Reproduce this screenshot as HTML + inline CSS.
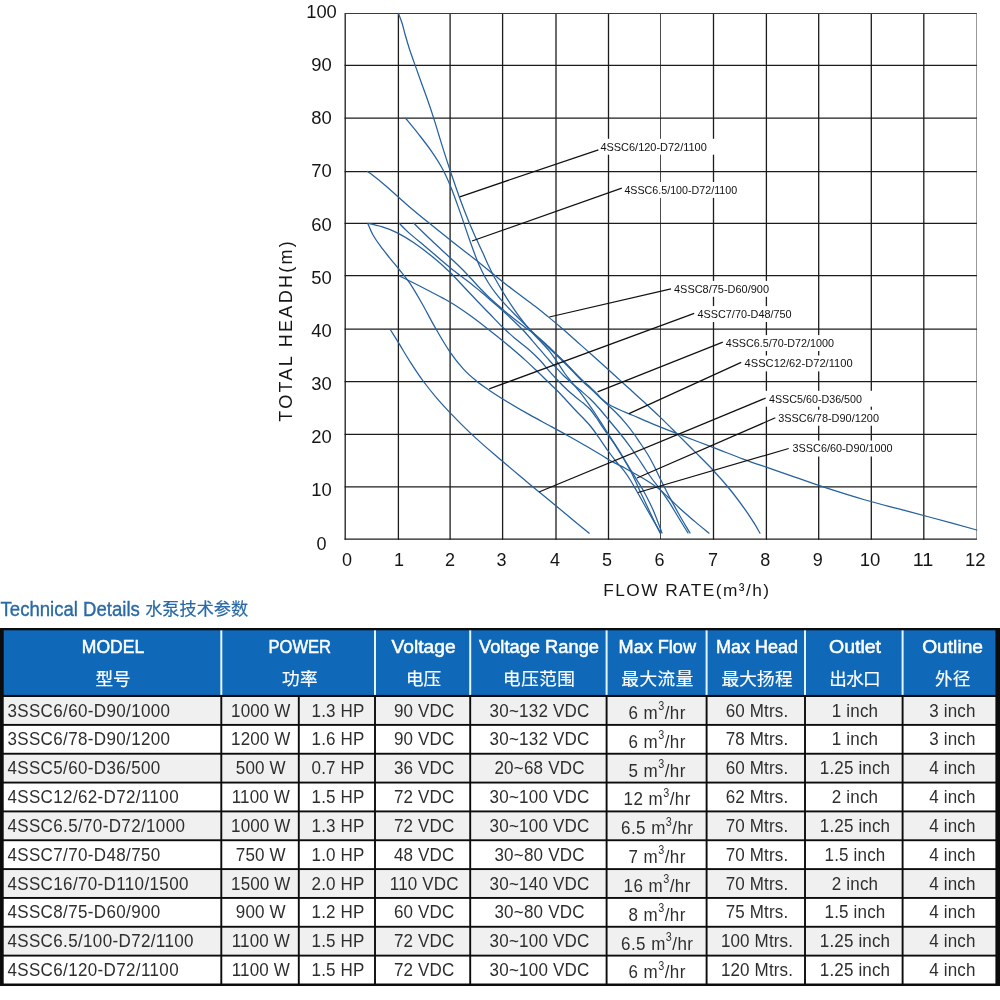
<!DOCTYPE html>
<html lang="en"><head><meta charset="utf-8"><title>Technical Details</title>
<style>
html,body{margin:0;padding:0;background:#fff;}
body{width:1000px;height:1000px;overflow:hidden;}
svg{display:block;}
text{font-family:"Liberation Sans","Noto Sans CJK SC",sans-serif;}
.ax{font-size:18px;fill:#161616;text-anchor:middle;}
.lb{font-size:10.4px;fill:#111;}
.tt{font-size:17px;fill:#111;}
.hd{font-size:17.5px;fill:#fff;text-anchor:middle;stroke:#fff;stroke-width:0.5px;}
.hc{font-size:17.6px;fill:#fff;text-anchor:middle;stroke:#fff;stroke-width:0.2px;}
.td{font-size:18.9px;fill:#2e2e2e;text-anchor:middle;}
.tm{font-size:18.9px;fill:#2e2e2e;}
.cv{fill:none;stroke:#25619e;stroke-width:1.25;stroke-linejoin:round;stroke-linecap:round;}
.ld{stroke:#111;stroke-width:1.25;fill:none;}
</style></head><body>
<svg width="1000" height="1000" viewBox="0 0 1000 1000">
<rect x="0" y="0" width="1000" height="1000" fill="#fff"/>
<g id="grid" fill="none">
<line x1="345.20" y1="13.00" x2="345.20" y2="539.70" stroke="#1c1c1c" stroke-width="1.3"/>
<line x1="398.40" y1="13.00" x2="398.40" y2="539.70" stroke="#1c1c1c" stroke-width="1.3"/>
<line x1="450.10" y1="13.00" x2="450.10" y2="539.70" stroke="#1c1c1c" stroke-width="1.3"/>
<line x1="502.60" y1="13.00" x2="502.60" y2="539.70" stroke="#1c1c1c" stroke-width="1.3"/>
<line x1="556.00" y1="13.00" x2="556.00" y2="539.70" stroke="#1c1c1c" stroke-width="1.3"/>
<line x1="608.50" y1="13.00" x2="608.50" y2="539.70" stroke="#1c1c1c" stroke-width="1.3"/>
<line x1="660.50" y1="13.40" x2="660.50" y2="539.10" stroke="#4a4a4a" stroke-width="1"/>
<line x1="713.50" y1="13.00" x2="713.50" y2="539.70" stroke="#1c1c1c" stroke-width="1.3"/>
<line x1="766.40" y1="13.00" x2="766.40" y2="539.70" stroke="#1c1c1c" stroke-width="1.3"/>
<line x1="818.70" y1="13.00" x2="818.70" y2="539.70" stroke="#1c1c1c" stroke-width="1.3"/>
<line x1="871.30" y1="13.00" x2="871.30" y2="539.70" stroke="#1c1c1c" stroke-width="1.3"/>
<line x1="923.80" y1="13.00" x2="923.80" y2="539.70" stroke="#1c1c1c" stroke-width="1.3"/>
<line x1="976.50" y1="13.40" x2="976.50" y2="539.10" stroke="#9a9a9a" stroke-width="1"/>
<line x1="344.60" y1="539.10" x2="976.90" y2="539.10" stroke="#1c1c1c" stroke-width="1.3"/>
<line x1="344.60" y1="486.90" x2="976.90" y2="486.90" stroke="#1c1c1c" stroke-width="1.3"/>
<line x1="344.60" y1="434.30" x2="976.90" y2="434.30" stroke="#1c1c1c" stroke-width="1.3"/>
<line x1="344.60" y1="381.70" x2="976.90" y2="381.70" stroke="#1c1c1c" stroke-width="1.3"/>
<line x1="344.60" y1="329.20" x2="976.90" y2="329.20" stroke="#1c1c1c" stroke-width="1.3"/>
<line x1="344.60" y1="275.60" x2="976.90" y2="275.60" stroke="#1c1c1c" stroke-width="1.3"/>
<line x1="344.60" y1="223.30" x2="976.90" y2="223.30" stroke="#1c1c1c" stroke-width="1.3"/>
<line x1="344.60" y1="171.60" x2="976.90" y2="171.60" stroke="#1c1c1c" stroke-width="1.3"/>
<line x1="344.60" y1="118.20" x2="976.90" y2="118.20" stroke="#1c1c1c" stroke-width="1.3"/>
<line x1="344.60" y1="65.40" x2="976.90" y2="65.40" stroke="#1c1c1c" stroke-width="1.3"/>
<line x1="345.20" y1="13.5" x2="976.90" y2="13.5" stroke="#3a3a3a" stroke-width="1"/>
</g>
<g id="label-bg" fill="#fff">
<rect x="596.4" y="138.8" width="121.4" height="15.9"/>
<rect x="620.4" y="182.0" width="127.8" height="15.9"/>
<rect x="670.0" y="280.9" width="110.0" height="15.9"/>
<rect x="693.5" y="306.1" width="109.1" height="15.9"/>
<rect x="721.7" y="335.1" width="123.3" height="15.9"/>
<rect x="740.6" y="355.5" width="123.0" height="15.9"/>
<rect x="765.0" y="390.8" width="108.0" height="15.9"/>
<rect x="774.2" y="409.8" width="115.8" height="15.9"/>
<rect x="788.6" y="440.6" width="115.0" height="15.9"/>
</g>
<g id="curves">
<path class="cv" d="M398.5 13.5C399.1 15.1 401.0 19.7 402.1 23.2C403.2 26.7 403.9 30.3 405.1 34.5C406.3 38.7 407.6 43.2 409.2 48.2C410.8 53.2 412.9 59.0 414.9 64.6C416.9 70.2 419.0 76.1 421.1 82.0C423.2 87.9 425.5 94.0 427.6 100.0C429.7 106.0 431.8 112.2 433.6 117.9C435.5 123.7 437.0 128.9 438.7 134.5C440.4 140.1 442.0 145.3 444.0 151.6C446.0 157.9 448.2 164.9 450.8 172.5C453.4 180.1 456.5 189.1 459.4 197.2C462.3 205.2 465.6 213.8 468.4 220.8C471.2 227.8 474.0 233.8 476.4 239.1C478.8 244.4 480.9 248.6 482.8 252.8C484.7 257.0 486.1 260.5 488.0 264.5C489.9 268.5 491.6 272.2 494.1 276.8C496.6 281.4 499.6 286.6 502.8 291.8C506.0 297.0 509.8 302.9 513.1 307.8C516.4 312.7 519.8 317.3 522.8 321.2C525.8 325.1 528.1 328.1 531.0 331.4C533.9 334.7 537.0 337.6 540.0 340.8C543.0 344.0 546.2 347.2 549.0 350.6C551.8 354.1 554.3 357.8 556.9 361.5C559.5 365.2 562.0 369.4 564.5 373.0C567.0 376.6 569.6 379.6 572.2 382.8C574.8 386.0 577.4 388.9 580.0 392.2C582.6 395.5 585.4 399.4 587.8 402.8C590.2 406.2 592.3 409.2 594.5 412.5C596.7 415.8 598.6 418.9 600.9 422.4C603.1 425.9 605.6 429.8 608.0 433.5C610.4 437.2 612.9 441.0 615.4 444.9C617.9 448.8 620.4 452.8 622.8 456.8C625.2 460.8 627.7 465.0 630.0 468.8C632.3 472.6 634.4 475.9 636.8 479.8C639.1 483.7 641.4 487.0 644.1 492.0C646.8 497.0 650.0 503.0 653.0 509.8C656.0 516.6 660.5 529.1 662.0 533.0"/>
<path class="cv" d="M405.8 118.5C408.0 121.2 414.6 129.1 418.9 134.6C423.2 140.1 427.7 145.8 431.7 151.6C435.7 157.4 439.4 163.1 442.7 169.2C446.0 175.3 448.4 181.0 451.4 188.4C454.4 195.8 457.5 205.0 460.5 213.4C463.5 221.8 466.6 231.5 469.2 238.8C471.8 246.1 473.9 252.0 476.0 257.4C478.1 262.8 479.9 266.9 482.0 271.2C484.1 275.5 486.2 279.3 488.5 283.0C490.8 286.7 493.0 289.8 495.6 293.2C498.2 296.6 500.8 299.7 504.0 303.2C507.2 306.7 511.0 310.6 514.6 314.2C518.2 317.8 522.1 321.7 525.5 325.0C528.9 328.3 531.7 331.1 534.8 334.2C537.9 337.3 540.7 340.1 544.2 343.5C547.7 346.9 552.0 350.9 555.8 354.5C559.6 358.1 563.5 361.9 566.8 365.2C570.1 368.5 572.8 371.4 575.5 374.2C578.2 377.0 580.8 379.6 583.2 382.0C585.7 384.4 587.7 386.1 590.2 388.4C592.7 390.7 595.3 393.1 598.1 395.8C600.9 398.5 604.1 401.5 607.2 404.4C610.3 407.3 613.4 410.0 616.6 413.2C619.8 416.4 623.3 420.3 626.2 423.8C629.1 427.3 631.6 430.7 634.0 434.0C636.4 437.3 638.2 440.2 640.5 443.5C642.8 446.8 645.2 450.2 647.5 454.0C649.8 457.8 651.8 461.5 654.1 466.0C656.4 470.5 658.5 475.4 661.2 480.8C663.9 486.2 667.0 492.4 670.2 498.4C673.4 504.3 676.9 510.7 680.2 516.5C683.5 522.3 688.4 530.2 690.0 533.0"/>
<path class="cv" d="M367.6 171.4C369.9 173.2 376.9 178.5 381.5 182.3C386.1 186.1 390.6 190.2 395.2 194.2C399.8 198.2 403.5 201.7 409.0 206.4C414.5 211.1 421.4 216.8 428.2 222.3C435.0 227.9 443.3 234.5 449.9 239.7C456.4 244.9 462.4 249.5 467.5 253.5C472.6 257.5 476.7 260.6 480.8 263.9C484.9 267.2 488.2 270.0 492.1 273.2C496.1 276.4 499.9 279.6 504.5 283.2C509.1 286.8 514.4 290.7 519.4 294.5C524.4 298.3 530.2 302.5 534.8 306.1C539.4 309.7 543.6 313.1 547.2 316.0C550.8 318.9 553.3 320.9 556.2 323.4C559.1 325.9 561.5 327.9 564.8 330.8C568.1 333.7 571.6 336.9 576.0 340.8C580.4 344.7 585.8 349.4 590.9 354.0C596.0 358.6 602.0 363.9 606.8 368.2C611.6 372.5 615.7 376.4 619.6 379.9C623.5 383.4 626.2 385.8 630.0 389.3C633.8 392.8 637.7 396.2 642.6 400.8C647.5 405.4 653.7 411.0 659.6 416.6C665.5 422.2 671.8 428.6 677.8 434.6C683.8 440.6 689.6 446.5 695.5 452.4C701.4 458.3 707.4 464.1 713.1 470.2C718.8 476.3 724.5 482.7 729.6 489.0C734.7 495.3 739.8 502.2 743.9 507.8C748.0 513.5 751.3 518.7 754.0 522.9C756.7 527.1 759.0 531.5 760.0 533.2"/>
<path class="cv" d="M413.8 223.2C416.7 226.0 425.6 234.8 431.4 240.3C437.2 245.9 443.7 251.7 448.8 256.5C453.9 261.3 458.3 265.3 462.0 269.0C465.7 272.7 468.0 275.3 471.0 278.5C474.0 281.7 476.7 284.8 480.0 288.2C483.3 291.6 486.9 295.4 490.6 298.8C494.3 302.2 498.2 305.6 502.0 308.8C505.8 312.0 509.4 315.1 513.1 318.0C516.8 320.9 520.5 323.8 524.0 326.5C527.5 329.2 530.8 331.3 534.2 334.0C537.6 336.7 540.6 339.2 544.2 342.5C547.8 345.8 552.0 349.9 555.8 353.5C559.6 357.1 563.5 360.9 566.8 364.2C570.1 367.5 572.8 370.4 575.5 373.2C578.2 376.0 580.8 378.7 583.2 381.0C585.7 383.3 588.0 385.2 590.2 387.2C592.4 389.2 594.5 391.1 596.5 393.2C598.5 395.2 600.2 397.5 602.4 399.5C604.6 401.5 606.9 403.3 609.8 405.0C612.7 406.7 615.8 408.1 619.6 409.8C623.4 411.5 627.1 412.9 632.5 415.2C637.9 417.5 644.0 420.4 651.9 423.6C659.8 426.8 669.5 430.7 679.6 434.6C689.7 438.5 701.9 443.2 712.4 447.2C722.9 451.2 733.4 455.4 742.5 458.8C751.6 462.2 758.9 464.6 767.0 467.4C775.1 470.2 781.7 472.5 791.3 475.8C800.9 479.1 812.4 483.4 824.7 487.4C837.0 491.4 852.9 496.4 865.3 500.0C877.6 503.6 887.8 506.0 898.8 508.9C909.8 511.8 918.1 514.0 931.1 517.5C944.1 521.0 969.2 527.9 976.8 530.0"/>
<path class="cv" d="M368.0 223.4C370.3 223.9 376.8 225.2 381.6 226.7C386.4 228.2 391.5 229.9 396.8 232.6C402.1 235.2 407.5 238.5 413.5 242.6C419.5 246.7 426.7 252.1 432.8 257.0C438.9 261.9 444.8 267.3 449.9 272.2C455.0 277.1 459.1 281.8 463.5 286.5C467.9 291.2 472.1 295.6 476.5 300.2C480.9 304.8 485.3 309.4 489.6 313.8C493.9 318.2 497.9 322.7 502.2 326.8C506.4 330.9 510.7 334.8 515.1 338.5C519.5 342.2 524.4 345.6 528.5 349.2C532.6 352.8 536.6 356.6 540.0 360.2C543.4 363.8 546.2 367.6 549.0 370.8C551.8 374.0 554.2 376.6 556.9 379.5C559.6 382.4 562.4 385.2 565.3 388.0C568.2 390.8 571.6 393.7 574.5 396.2C577.4 398.7 580.2 400.7 582.8 402.8C585.3 404.9 587.6 406.6 589.8 409.0C592.0 411.4 594.1 414.5 596.2 417.5C598.3 420.5 600.5 424.0 602.6 427.1C604.7 430.2 606.8 432.9 609.0 436.2C611.2 439.4 613.7 442.9 616.1 446.6C618.5 450.3 621.2 454.6 623.5 458.5C625.8 462.4 628.0 466.3 630.0 470.0C632.0 473.7 633.5 476.8 635.2 480.5C637.0 484.2 638.2 487.3 640.5 492.2C642.8 497.1 645.5 503.0 648.8 509.8C652.0 516.6 658.1 529.1 660.0 533.0"/>
<path class="cv" d="M368.0 224.0C368.8 225.8 370.9 231.3 373.0 235.0C375.1 238.7 377.7 242.4 380.5 246.2C383.3 250.0 386.5 253.9 389.6 257.8C392.7 261.7 395.8 265.3 399.2 269.5C402.6 273.7 406.1 277.6 409.8 283.2C413.5 288.8 417.3 295.3 421.6 302.8C425.9 310.3 430.7 319.8 435.4 328.0C440.1 336.2 445.2 345.0 449.9 351.9C454.6 358.8 459.1 364.3 463.5 369.2C467.9 374.1 472.1 377.5 476.4 381.0C480.7 384.5 484.5 387.0 489.5 390.4C494.5 393.8 499.7 397.1 506.4 401.2C513.1 405.3 522.2 410.6 529.8 414.9C537.4 419.2 545.3 423.3 551.8 426.9C558.3 430.4 563.1 433.0 568.8 436.2C574.5 439.4 581.0 443.0 586.1 446.0C591.2 449.0 595.8 451.7 599.6 454.0C603.4 456.3 605.9 458.1 608.8 459.8C611.7 461.5 614.4 462.8 617.1 464.2C619.8 465.6 622.2 466.6 625.2 468.2C628.2 469.8 631.5 471.8 635.0 473.8C638.5 475.8 642.5 477.9 646.2 480.2C650.0 482.5 653.9 485.0 657.5 487.8C661.1 490.6 664.2 493.6 667.9 497.0C671.6 500.4 675.2 504.2 679.6 508.2C684.0 512.2 689.5 516.9 694.4 521.1C699.3 525.3 706.6 531.2 709.0 533.2"/>
<path class="cv" d="M399.5 223.5C400.9 224.9 403.9 228.3 408.1 232.1C412.3 235.8 419.1 241.4 424.6 246.0C430.1 250.6 436.2 255.8 441.0 259.9C445.8 264.0 449.2 266.9 453.6 270.4C458.0 273.9 463.1 277.5 467.5 280.9C471.9 284.3 476.1 287.8 480.0 291.0C483.9 294.2 486.9 296.9 490.6 300.2C494.4 303.4 498.5 306.9 502.5 310.5C506.5 314.1 510.9 318.2 514.6 321.8C518.3 325.4 521.8 328.8 524.8 332.0C527.8 335.2 529.9 337.8 532.5 340.8C535.1 343.8 537.8 347.0 540.5 350.2C543.2 353.4 546.4 357.0 549.0 360.0C551.6 363.0 554.1 365.5 556.4 368.0C558.7 370.5 560.6 372.6 563.0 375.0C565.4 377.4 568.0 379.7 570.8 382.2C573.6 384.7 576.8 387.2 580.0 390.0C583.2 392.8 586.7 395.6 590.0 398.8C593.3 402.0 596.4 405.4 599.6 409.0C602.8 412.6 605.9 416.5 609.2 420.5C612.5 424.5 616.2 428.8 619.6 433.0C623.0 437.2 626.4 441.6 629.5 445.8C632.6 450.0 635.3 454.1 638.0 458.0C640.7 461.9 643.1 465.9 645.5 469.5C647.9 473.1 650.1 476.2 652.5 479.5C654.9 482.8 657.3 485.4 660.0 489.0C662.7 492.6 665.5 496.6 668.5 501.2C671.5 505.8 674.8 511.5 678.0 516.8C681.2 522.1 686.3 530.3 688.0 533.0"/>
<path class="cv" d="M390.5 330.0C392.0 332.4 396.1 338.8 399.4 344.2C402.7 349.6 406.6 356.3 410.5 362.4C414.4 368.5 418.8 375.2 423.1 381.0C427.4 386.8 431.4 391.8 436.1 397.3C440.8 402.8 445.8 408.2 451.4 414.1C457.0 420.0 462.7 425.8 469.9 432.6C477.1 439.4 485.4 446.7 494.8 454.8C504.2 462.9 516.5 473.1 526.4 481.4C536.3 489.7 546.5 497.9 554.4 504.5C562.3 511.1 568.1 515.9 573.9 520.7C579.7 525.5 586.7 531.1 589.2 533.2"/>
<path class="cv" d="M399.5 276.0C401.6 277.0 407.3 279.7 412.2 282.2C417.1 284.7 423.7 288.1 428.8 290.8C433.9 293.5 438.7 295.8 442.9 298.1C447.1 300.4 449.6 301.7 454.0 304.5C458.4 307.3 464.0 311.1 469.5 315.1C475.0 319.1 481.1 323.7 487.2 328.4C493.3 333.1 499.6 338.1 506.0 343.5C512.4 348.9 520.2 355.6 525.8 360.6C531.4 365.6 535.8 370.0 539.5 373.5C543.2 377.0 545.2 379.1 548.0 381.8C550.8 384.5 553.5 386.9 556.4 389.8C559.3 392.7 562.2 395.9 565.3 399.2C568.4 402.5 571.9 406.5 575.0 409.8C578.1 413.1 581.2 416.0 583.8 418.8C586.4 421.6 588.3 423.4 590.8 426.5C593.3 429.6 595.8 433.2 598.6 437.2C601.4 441.2 604.9 446.4 607.8 450.5C610.7 454.6 613.5 458.2 616.1 461.5C618.7 464.8 621.2 467.2 623.5 470.2C625.8 473.2 627.8 476.0 630.0 479.5C632.2 483.0 634.3 486.9 636.8 491.2C639.3 495.5 642.1 500.8 644.8 505.5C647.5 510.2 650.3 515.1 652.9 519.6C655.5 524.1 659.2 530.4 660.5 532.5"/>
</g>
<g id="leaders">
<line class="ld" x1="459.8" y1="196.8" x2="598.4" y2="149.8"/>
<line class="ld" x1="472.0" y1="241.0" x2="621.8" y2="188.2"/>
<line class="ld" x1="549.3" y1="317.0" x2="671.0" y2="288.9"/>
<line class="ld" x1="489.2" y1="388.9" x2="694.2" y2="313.3"/>
<line class="ld" x1="597.6" y1="391.8" x2="722.8" y2="342.2"/>
<line class="ld" x1="629.0" y1="413.6" x2="741.2" y2="362.4"/>
<line class="ld" x1="539.0" y1="492.0" x2="765.6" y2="398.1"/>
<line class="ld" x1="637.0" y1="478.0" x2="775.3" y2="417.8"/>
<line class="ld" x1="638.0" y1="492.5" x2="788.7" y2="448.5"/>
</g>
<g id="label-text">
<text class="lb" x="600.4" y="150.5" textLength="106.4" lengthAdjust="spacingAndGlyphs">4SSC6/120-D72/1100</text>
<text class="lb" x="624.4" y="193.7" textLength="112.8" lengthAdjust="spacingAndGlyphs">4SSC6.5/100-D72/1100</text>
<text class="lb" x="674.0" y="292.6" textLength="95.0" lengthAdjust="spacingAndGlyphs">4SSC8/75-D60/900</text>
<text class="lb" x="697.5" y="317.8" textLength="94.1" lengthAdjust="spacingAndGlyphs">4SSC7/70-D48/750</text>
<text class="lb" x="725.7" y="346.8" textLength="108.3" lengthAdjust="spacingAndGlyphs">4SSC6.5/70-D72/1000</text>
<text class="lb" x="744.6" y="367.2" textLength="108.0" lengthAdjust="spacingAndGlyphs">4SSC12/62-D72/1100</text>
<text class="lb" x="769.0" y="402.5" textLength="93.0" lengthAdjust="spacingAndGlyphs">4SSC5/60-D36/500</text>
<text class="lb" x="778.2" y="421.5" textLength="100.8" lengthAdjust="spacingAndGlyphs">3SSC6/78-D90/1200</text>
<text class="lb" x="792.6" y="452.3" textLength="100.0" lengthAdjust="spacingAndGlyphs">3SSC6/60-D90/1000</text>
</g>
<g id="yticks">
<text class="ax" x="321.5" y="549.6">0</text>
<text class="ax" x="321.5" y="496.4" textLength="20.5" lengthAdjust="spacingAndGlyphs">10</text>
<text class="ax" x="321.5" y="443.2" textLength="20.5" lengthAdjust="spacingAndGlyphs">20</text>
<text class="ax" x="321.5" y="390.0" textLength="20.5" lengthAdjust="spacingAndGlyphs">30</text>
<text class="ax" x="321.5" y="336.8" textLength="20.5" lengthAdjust="spacingAndGlyphs">40</text>
<text class="ax" x="321.5" y="283.6" textLength="20.5" lengthAdjust="spacingAndGlyphs">50</text>
<text class="ax" x="321.5" y="230.5" textLength="20.5" lengthAdjust="spacingAndGlyphs">60</text>
<text class="ax" x="321.5" y="177.3" textLength="20.5" lengthAdjust="spacingAndGlyphs">70</text>
<text class="ax" x="321.5" y="124.1" textLength="20.5" lengthAdjust="spacingAndGlyphs">80</text>
<text class="ax" x="321.5" y="70.9" textLength="20.5" lengthAdjust="spacingAndGlyphs">90</text>
<text class="ax" x="321.5" y="17.7" textLength="30.6" lengthAdjust="spacingAndGlyphs">100</text>
</g>
<g id="xticks">
<text class="ax" style="font-size:18px" x="347.0" y="566.1">0</text>
<text class="ax" style="font-size:18px" x="399.0" y="566.1">1</text>
<text class="ax" style="font-size:18px" x="449.9" y="566.1">2</text>
<text class="ax" style="font-size:18px" x="501.5" y="566.1">3</text>
<text class="ax" style="font-size:18px" x="555.0" y="566.1">4</text>
<text class="ax" style="font-size:18px" x="607.0" y="566.1">5</text>
<text class="ax" style="font-size:18px" x="659.4" y="566.1">6</text>
<text class="ax" style="font-size:18px" x="712.9" y="566.1">7</text>
<text class="ax" style="font-size:18px" x="765.3" y="566.1">8</text>
<text class="ax" style="font-size:18px" x="817.8" y="566.1">9</text>
<text class="ax" style="font-size:18px" x="870.0" y="566.1" textLength="20.6" lengthAdjust="spacingAndGlyphs">10</text>
<text class="ax" style="font-size:18px" x="923.0" y="566.1" textLength="20.6" lengthAdjust="spacingAndGlyphs">11</text>
<text class="ax" style="font-size:18px" x="975.3" y="566.1" textLength="20.6" lengthAdjust="spacingAndGlyphs">12</text>
</g>
<text x="603.2" y="596.3" font-size="17.3px" fill="#161616" textLength="165.8" lengthAdjust="spacing">FLOW RATE(m³/h)</text>
<text transform="translate(292.3 421.7) rotate(-90)" font-size="18px" fill="#161616" textLength="180.5" lengthAdjust="spacing">TOTAL HEADH(m)</text>
<text x="0.6" y="615.5" fill="#2869a6" stroke="#2869a6" stroke-width="0.35" font-size="19.4px" textLength="139.2" lengthAdjust="spacingAndGlyphs">Technical Details</text>
<text x="145.2" y="614.6" fill="#2869a6" stroke="#2869a6" stroke-width="0.2" font-size="17.2px" textLength="103" lengthAdjust="spacing">水泵技术参数</text>
<g id="table">
<rect x="0" y="628.0" width="1000" height="358.0" fill="#0c0c0c"/>
<rect x="3.7" y="630.3" width="991.7" height="64.6" fill="#0f69b8"/>
<rect x="3.7" y="697.00" width="991.7" height="26.94" fill="#f0f0f0"/>
<rect x="3.7" y="725.84" width="991.7" height="26.94" fill="#ffffff"/>
<rect x="3.7" y="754.68" width="991.7" height="26.94" fill="#f0f0f0"/>
<rect x="3.7" y="783.52" width="991.7" height="26.94" fill="#ffffff"/>
<rect x="3.7" y="812.36" width="991.7" height="26.94" fill="#f0f0f0"/>
<rect x="3.7" y="841.20" width="991.7" height="26.94" fill="#ffffff"/>
<rect x="3.7" y="870.04" width="991.7" height="26.94" fill="#f0f0f0"/>
<rect x="3.7" y="898.88" width="991.7" height="26.94" fill="#ffffff"/>
<rect x="3.7" y="927.72" width="991.7" height="26.94" fill="#f0f0f0"/>
<rect x="3.7" y="956.56" width="991.7" height="26.94" fill="#ffffff"/>
<rect x="220.35" y="696.0" width="1.9" height="288.4" fill="#0c0c0c"/>
<rect x="297.85" y="696.0" width="1.9" height="288.4" fill="#0c0c0c"/>
<rect x="374.05" y="696.0" width="1.9" height="288.4" fill="#0c0c0c"/>
<rect x="469.25" y="696.0" width="1.9" height="288.4" fill="#0c0c0c"/>
<rect x="605.65" y="696.0" width="1.9" height="288.4" fill="#0c0c0c"/>
<rect x="705.65" y="696.0" width="1.9" height="288.4" fill="#0c0c0c"/>
<rect x="804.05" y="696.0" width="1.9" height="288.4" fill="#0c0c0c"/>
<rect x="901.65" y="696.0" width="1.9" height="288.4" fill="#0c0c0c"/>
<rect x="220.30" y="630.4" width="2" height="64.5" fill="#e6f6ff"/>
<rect x="374.00" y="630.4" width="2" height="64.5" fill="#e6f6ff"/>
<rect x="469.20" y="630.4" width="2" height="64.5" fill="#e6f6ff"/>
<rect x="605.60" y="630.4" width="2" height="64.5" fill="#e6f6ff"/>
<rect x="705.60" y="630.4" width="2" height="64.5" fill="#e6f6ff"/>
<rect x="804.00" y="630.4" width="2" height="64.5" fill="#e6f6ff"/>
<rect x="901.60" y="630.4" width="2" height="64.5" fill="#e6f6ff"/>
</g>
<g id="thead">
<text class="hd" x="113.0" y="653.0" textLength="62.3" lengthAdjust="spacingAndGlyphs">MODEL</text>
<text class="hc" x="113.0" y="685.2" textLength="35.2" lengthAdjust="spacing">型号</text>
<text class="hd" x="299.8" y="653.0" textLength="62.6" lengthAdjust="spacingAndGlyphs">POWER</text>
<text class="hc" x="299.8" y="685.2" textLength="35.4" lengthAdjust="spacing">功率</text>
<text class="hd" x="423.6" y="653.0" textLength="64.0" lengthAdjust="spacingAndGlyphs">Voltage</text>
<text class="hc" x="423.6" y="685.2" textLength="35.0" lengthAdjust="spacing">电压</text>
<text class="hd" x="539.0" y="653.0" textLength="120.0" lengthAdjust="spacingAndGlyphs">Voltage Range</text>
<text class="hc" x="539.0" y="685.2" textLength="71.8" lengthAdjust="spacing">电压范围</text>
<text class="hd" x="657.3" y="653.0" textLength="77.4" lengthAdjust="spacingAndGlyphs">Max Flow</text>
<text class="hc" x="657.3" y="685.2" textLength="72.2" lengthAdjust="spacing">最大流量</text>
<text class="hd" x="757.0" y="653.0" textLength="81.8" lengthAdjust="spacingAndGlyphs">Max Head</text>
<text class="hc" x="757.0" y="685.2" textLength="71.0" lengthAdjust="spacing">最大扬程</text>
<text class="hd" x="855.0" y="653.0" textLength="52.0" lengthAdjust="spacingAndGlyphs">Outlet</text>
<text class="hc" x="855.0" y="685.2" textLength="51.4" lengthAdjust="spacing">出水口</text>
<text class="hd" x="952.6" y="653.0" textLength="60.8" lengthAdjust="spacingAndGlyphs">Outline</text>
<text class="hc" x="952.6" y="685.2" textLength="35.3" lengthAdjust="spacing">外径</text>
</g>
<g id="tbody">
<text class="tm" transform="translate(7.4 716.5) scale(0.900 1)" letter-spacing="0.4">3SSC6/60-D90/1000</text>
<text class="td" transform="translate(260.8 716.5) scale(0.900 1)" letter-spacing="0.17">1000 W</text>
<text class="td" transform="translate(338.0 716.5) scale(0.900 1)" letter-spacing="0.17">1.3 HP</text>
<text class="td" transform="translate(424.2 716.5) scale(0.900 1)" letter-spacing="0.17">90 VDC</text>
<text class="td" transform="translate(539.6 716.5) scale(0.900 1)" letter-spacing="0.25">30~132 VDC</text>
<text class="td" transform="translate(657.2 718.8) scale(0.900 1)" letter-spacing="0.5">6 m<tspan font-size="12px" dy="-8.6">3</tspan><tspan dy="8.6">/hr</tspan></text>
<text class="td" transform="translate(757.0 716.5) scale(0.900 1)" letter-spacing="0.17">60 Mtrs.</text>
<text class="td" transform="translate(855.0 716.5) scale(0.900 1)" letter-spacing="0.17">1 inch</text>
<text class="td" transform="translate(952.4 716.5) scale(0.900 1)" letter-spacing="0.17">3 inch</text>
<text class="tm" transform="translate(7.4 745.3) scale(0.900 1)" letter-spacing="0.4">3SSC6/78-D90/1200</text>
<text class="td" transform="translate(260.8 745.3) scale(0.900 1)" letter-spacing="0.17">1200 W</text>
<text class="td" transform="translate(338.0 745.3) scale(0.900 1)" letter-spacing="0.17">1.6 HP</text>
<text class="td" transform="translate(424.2 745.3) scale(0.900 1)" letter-spacing="0.17">90 VDC</text>
<text class="td" transform="translate(539.6 745.3) scale(0.900 1)" letter-spacing="0.25">30~132 VDC</text>
<text class="td" transform="translate(657.2 747.6) scale(0.900 1)" letter-spacing="0.5">6 m<tspan font-size="12px" dy="-8.6">3</tspan><tspan dy="8.6">/hr</tspan></text>
<text class="td" transform="translate(757.0 745.3) scale(0.900 1)" letter-spacing="0.17">78 Mtrs.</text>
<text class="td" transform="translate(855.0 745.3) scale(0.900 1)" letter-spacing="0.17">1 inch</text>
<text class="td" transform="translate(952.4 745.3) scale(0.900 1)" letter-spacing="0.17">3 inch</text>
<text class="tm" transform="translate(7.4 774.2) scale(0.900 1)" letter-spacing="0.4">4SSC5/60-D36/500</text>
<text class="td" transform="translate(260.8 774.2) scale(0.900 1)" letter-spacing="0.17">500 W</text>
<text class="td" transform="translate(338.0 774.2) scale(0.900 1)" letter-spacing="0.17">0.7 HP</text>
<text class="td" transform="translate(424.2 774.2) scale(0.900 1)" letter-spacing="0.17">36 VDC</text>
<text class="td" transform="translate(539.6 774.2) scale(0.900 1)" letter-spacing="0.25">20~68 VDC</text>
<text class="td" transform="translate(657.2 776.5) scale(0.900 1)" letter-spacing="0.5">5 m<tspan font-size="12px" dy="-8.6">3</tspan><tspan dy="8.6">/hr</tspan></text>
<text class="td" transform="translate(757.0 774.2) scale(0.900 1)" letter-spacing="0.17">60 Mtrs.</text>
<text class="td" transform="translate(855.0 774.2) scale(0.900 1)" letter-spacing="0.17">1.25 inch</text>
<text class="td" transform="translate(952.4 774.2) scale(0.900 1)" letter-spacing="0.17">4 inch</text>
<text class="tm" transform="translate(7.4 803.0) scale(0.900 1)" letter-spacing="0.4">4SSC12/62-D72/1100</text>
<text class="td" transform="translate(260.8 803.0) scale(0.900 1)" letter-spacing="0.17">1100 W</text>
<text class="td" transform="translate(338.0 803.0) scale(0.900 1)" letter-spacing="0.17">1.5 HP</text>
<text class="td" transform="translate(424.2 803.0) scale(0.900 1)" letter-spacing="0.17">72 VDC</text>
<text class="td" transform="translate(539.6 803.0) scale(0.900 1)" letter-spacing="0.25">30~100 VDC</text>
<text class="td" transform="translate(657.2 805.3) scale(0.900 1)" letter-spacing="0.5">12 m<tspan font-size="12px" dy="-8.6">3</tspan><tspan dy="8.6">/hr</tspan></text>
<text class="td" transform="translate(757.0 803.0) scale(0.900 1)" letter-spacing="0.17">62 Mtrs.</text>
<text class="td" transform="translate(855.0 803.0) scale(0.900 1)" letter-spacing="0.17">2 inch</text>
<text class="td" transform="translate(952.4 803.0) scale(0.900 1)" letter-spacing="0.17">4 inch</text>
<text class="tm" transform="translate(7.4 831.9) scale(0.900 1)" letter-spacing="0.4">4SSC6.5/70-D72/1000</text>
<text class="td" transform="translate(260.8 831.9) scale(0.900 1)" letter-spacing="0.17">1000 W</text>
<text class="td" transform="translate(338.0 831.9) scale(0.900 1)" letter-spacing="0.17">1.3 HP</text>
<text class="td" transform="translate(424.2 831.9) scale(0.900 1)" letter-spacing="0.17">72 VDC</text>
<text class="td" transform="translate(539.6 831.9) scale(0.900 1)" letter-spacing="0.25">30~100 VDC</text>
<text class="td" transform="translate(657.2 834.2) scale(0.900 1)" letter-spacing="0.5">6.5 m<tspan font-size="12px" dy="-8.6">3</tspan><tspan dy="8.6">/hr</tspan></text>
<text class="td" transform="translate(757.0 831.9) scale(0.900 1)" letter-spacing="0.17">70 Mtrs.</text>
<text class="td" transform="translate(855.0 831.9) scale(0.900 1)" letter-spacing="0.17">1.25 inch</text>
<text class="td" transform="translate(952.4 831.9) scale(0.900 1)" letter-spacing="0.17">4 inch</text>
<text class="tm" transform="translate(7.4 860.7) scale(0.900 1)" letter-spacing="0.4">4SSC7/70-D48/750</text>
<text class="td" transform="translate(260.8 860.7) scale(0.900 1)" letter-spacing="0.17">750 W</text>
<text class="td" transform="translate(338.0 860.7) scale(0.900 1)" letter-spacing="0.17">1.0 HP</text>
<text class="td" transform="translate(424.2 860.7) scale(0.900 1)" letter-spacing="0.17">48 VDC</text>
<text class="td" transform="translate(539.6 860.7) scale(0.900 1)" letter-spacing="0.25">30~80 VDC</text>
<text class="td" transform="translate(657.2 863.0) scale(0.900 1)" letter-spacing="0.5">7 m<tspan font-size="12px" dy="-8.6">3</tspan><tspan dy="8.6">/hr</tspan></text>
<text class="td" transform="translate(757.0 860.7) scale(0.900 1)" letter-spacing="0.17">70 Mtrs.</text>
<text class="td" transform="translate(855.0 860.7) scale(0.900 1)" letter-spacing="0.17">1.5 inch</text>
<text class="td" transform="translate(952.4 860.7) scale(0.900 1)" letter-spacing="0.17">4 inch</text>
<text class="tm" transform="translate(7.4 889.5) scale(0.900 1)" letter-spacing="0.4">4SSC16/70-D110/1500</text>
<text class="td" transform="translate(260.8 889.5) scale(0.900 1)" letter-spacing="0.17">1500 W</text>
<text class="td" transform="translate(338.0 889.5) scale(0.900 1)" letter-spacing="0.17">2.0 HP</text>
<text class="td" transform="translate(424.2 889.5) scale(0.900 1)" letter-spacing="0.17">110 VDC</text>
<text class="td" transform="translate(539.6 889.5) scale(0.900 1)" letter-spacing="0.25">30~140 VDC</text>
<text class="td" transform="translate(657.2 891.8) scale(0.900 1)" letter-spacing="0.5">16 m<tspan font-size="12px" dy="-8.6">3</tspan><tspan dy="8.6">/hr</tspan></text>
<text class="td" transform="translate(757.0 889.5) scale(0.900 1)" letter-spacing="0.17">70 Mtrs.</text>
<text class="td" transform="translate(855.0 889.5) scale(0.900 1)" letter-spacing="0.17">2 inch</text>
<text class="td" transform="translate(952.4 889.5) scale(0.900 1)" letter-spacing="0.17">4 inch</text>
<text class="tm" transform="translate(7.4 918.4) scale(0.900 1)" letter-spacing="0.4">4SSC8/75-D60/900</text>
<text class="td" transform="translate(260.8 918.4) scale(0.900 1)" letter-spacing="0.17">900 W</text>
<text class="td" transform="translate(338.0 918.4) scale(0.900 1)" letter-spacing="0.17">1.2 HP</text>
<text class="td" transform="translate(424.2 918.4) scale(0.900 1)" letter-spacing="0.17">60 VDC</text>
<text class="td" transform="translate(539.6 918.4) scale(0.900 1)" letter-spacing="0.25">30~80 VDC</text>
<text class="td" transform="translate(657.2 920.7) scale(0.900 1)" letter-spacing="0.5">8 m<tspan font-size="12px" dy="-8.6">3</tspan><tspan dy="8.6">/hr</tspan></text>
<text class="td" transform="translate(757.0 918.4) scale(0.900 1)" letter-spacing="0.17">75 Mtrs.</text>
<text class="td" transform="translate(855.0 918.4) scale(0.900 1)" letter-spacing="0.17">1.5 inch</text>
<text class="td" transform="translate(952.4 918.4) scale(0.900 1)" letter-spacing="0.17">4 inch</text>
<text class="tm" transform="translate(7.4 947.2) scale(0.900 1)" letter-spacing="0.4">4SSC6.5/100-D72/1100</text>
<text class="td" transform="translate(260.8 947.2) scale(0.900 1)" letter-spacing="0.17">1100 W</text>
<text class="td" transform="translate(338.0 947.2) scale(0.900 1)" letter-spacing="0.17">1.5 HP</text>
<text class="td" transform="translate(424.2 947.2) scale(0.900 1)" letter-spacing="0.17">72 VDC</text>
<text class="td" transform="translate(539.6 947.2) scale(0.900 1)" letter-spacing="0.25">30~100 VDC</text>
<text class="td" transform="translate(657.2 949.5) scale(0.900 1)" letter-spacing="0.5">6.5 m<tspan font-size="12px" dy="-8.6">3</tspan><tspan dy="8.6">/hr</tspan></text>
<text class="td" transform="translate(757.0 947.2) scale(0.900 1)" letter-spacing="0.17">100 Mtrs.</text>
<text class="td" transform="translate(855.0 947.2) scale(0.900 1)" letter-spacing="0.17">1.25 inch</text>
<text class="td" transform="translate(952.4 947.2) scale(0.900 1)" letter-spacing="0.17">4 inch</text>
<text class="tm" transform="translate(7.4 976.1) scale(0.900 1)" letter-spacing="0.4">4SSC6/120-D72/1100</text>
<text class="td" transform="translate(260.8 976.1) scale(0.900 1)" letter-spacing="0.17">1100 W</text>
<text class="td" transform="translate(338.0 976.1) scale(0.900 1)" letter-spacing="0.17">1.5 HP</text>
<text class="td" transform="translate(424.2 976.1) scale(0.900 1)" letter-spacing="0.17">72 VDC</text>
<text class="td" transform="translate(539.6 976.1) scale(0.900 1)" letter-spacing="0.25">30~100 VDC</text>
<text class="td" transform="translate(657.2 978.4) scale(0.900 1)" letter-spacing="0.5">6 m<tspan font-size="12px" dy="-8.6">3</tspan><tspan dy="8.6">/hr</tspan></text>
<text class="td" transform="translate(757.0 976.1) scale(0.900 1)" letter-spacing="0.17">120 Mtrs.</text>
<text class="td" transform="translate(855.0 976.1) scale(0.900 1)" letter-spacing="0.17">1.25 inch</text>
<text class="td" transform="translate(952.4 976.1) scale(0.900 1)" letter-spacing="0.17">4 inch</text>
</g>
</svg>
</body></html>
